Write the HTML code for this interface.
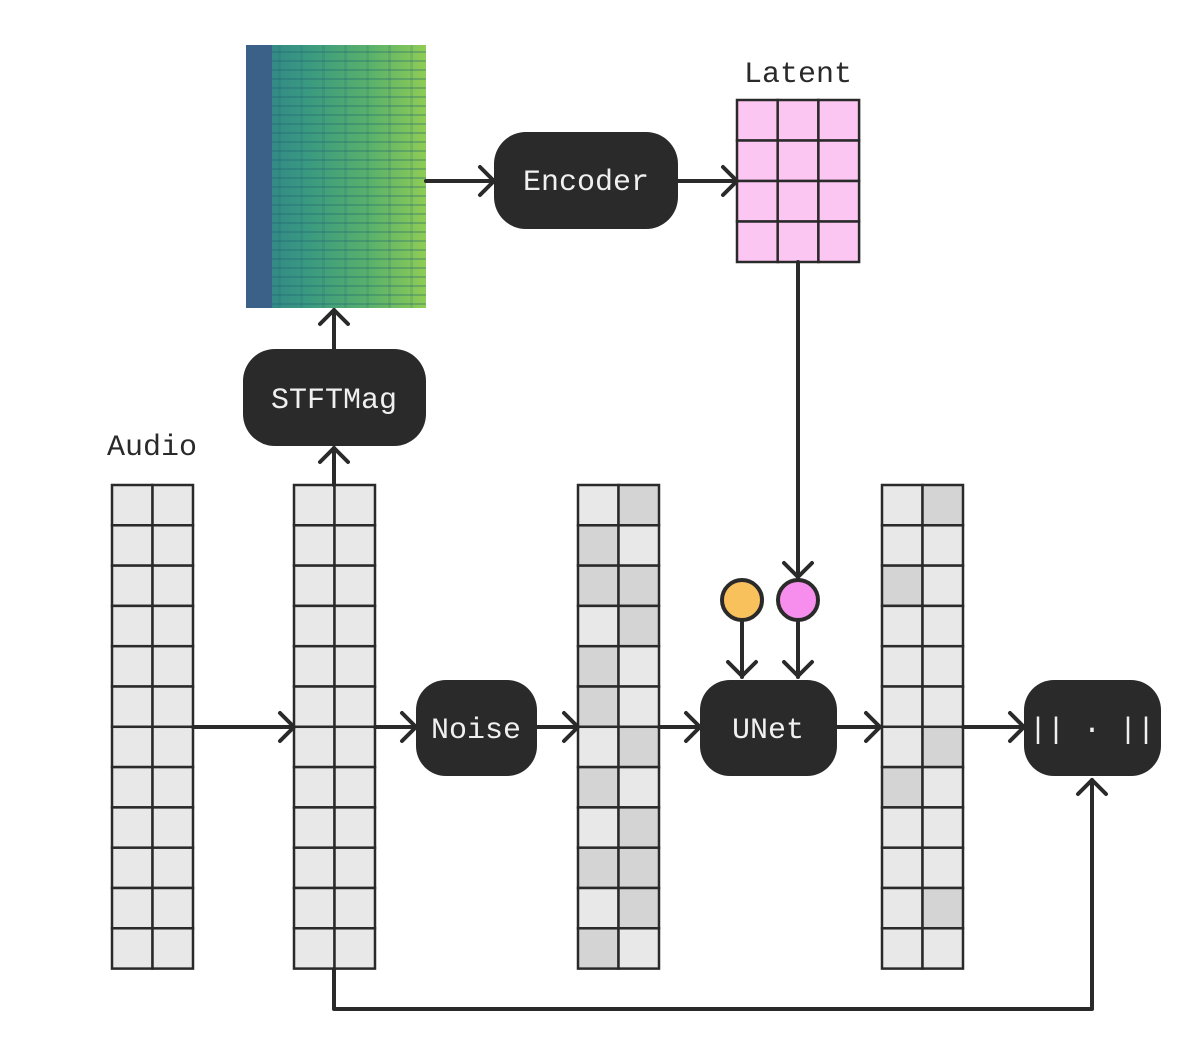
<!DOCTYPE html>
<html><head><meta charset="utf-8"><style>
html,body{margin:0;padding:0;background:#fff;}
svg{display:block;}
text{font-family:"Liberation Mono","DejaVu Sans Mono",monospace;}
</style></head><body>
<svg id="s" width="1200" height="1055" viewBox="0 0 1200 1055" xmlns="http://www.w3.org/2000/svg">
<defs>
<linearGradient id="sg" x1="0" x2="1" y1="0" y2="0">
<stop offset="0" stop-color="#2f7f8a"/>
<stop offset="0.35" stop-color="#3a9a80"/>
<stop offset="0.7" stop-color="#5bb26a"/>
<stop offset="1" stop-color="#8fcc55"/>
</linearGradient>
<pattern id="hl" width="10" height="9" patternUnits="userSpaceOnUse">
<rect width="10" height="9" fill="none"/>
<rect y="6" width="10" height="2" fill="#1f5f70" opacity="0.3"/>
</pattern>
<pattern id="vl" width="22" height="10" patternUnits="userSpaceOnUse">
<rect x="14" width="3" height="10" fill="#1f5f70" opacity="0.15"/>
</pattern>
</defs>
<rect x="246" y="45" width="180" height="263" fill="url(#sg)"/>
<rect x="272" y="45" width="154" height="263" fill="url(#hl)"/>
<rect x="272" y="45" width="154" height="263" fill="url(#vl)"/>
<rect x="246" y="45" width="26" height="263" fill="#3b6189"/>
<g id="grids"></g>
<g fill="#2a2a2a">
<rect x="494" y="132" width="184" height="97" rx="32"/>
<rect x="243" y="349" width="183" height="97" rx="32"/>
<rect x="416" y="680" width="121" height="96" rx="30"/>
<rect x="700" y="680" width="137" height="96" rx="30"/>
<rect x="1024" y="680" width="137" height="96" rx="30"/>
</g>
<g fill="#f0f0f0" font-size="30" text-anchor="middle">
<text x="586" y="190">Encoder</text>
<text x="334" y="408">STFTMag</text>
<text x="476" y="738">Noise</text>
<text x="768" y="738">UNet</text>
<text x="1092" y="738">|| · ||</text>
</g>
<g fill="#2a2a2a" font-size="30" text-anchor="middle">
<text x="798" y="82">Latent</text>
<text x="152" y="455">Audio</text>
</g>
<g stroke="#2a2a2a" stroke-width="4" fill="none" stroke-linecap="round" stroke-linejoin="round">
<line x1="426" y1="181" x2="492" y2="181"/><polyline points="480,167 494,181 480,195"/>
<line x1="678" y1="181" x2="735" y2="181"/><polyline points="723,167 737,181 723,195"/>
<line x1="334" y1="485" x2="334" y2="448"/><polyline points="320,462 334,448 348,462"/>
<line x1="334" y1="349" x2="334" y2="310"/><polyline points="320,324 334,310 348,324"/>
<line x1="193" y1="727" x2="292" y2="727"/><polyline points="280,713 294,727 280,741"/>
<line x1="375" y1="727" x2="414" y2="727"/><polyline points="402,713 416,727 402,741"/>
<line x1="537" y1="727" x2="576" y2="727"/><polyline points="564,713 578,727 564,741"/>
<line x1="659" y1="727" x2="698" y2="727"/><polyline points="686,713 700,727 686,741"/>
<line x1="837" y1="727" x2="880" y2="727"/><polyline points="866,713 880,727 866,741"/>
<line x1="963" y1="727" x2="1022" y2="727"/><polyline points="1010,713 1024,727 1010,741"/>
<line x1="798" y1="262" x2="798" y2="578"/><polyline points="784,563 798,577 812,563"/>
<line x1="742" y1="621" x2="742" y2="677"/><polyline points="728,662 742,676 756,662"/>
<line x1="798" y1="621" x2="798" y2="677"/><polyline points="784,662 798,676 812,662"/>
<polyline points="334,969 334,1009 1092,1009 1092,780"/><polyline points="1078,794 1092,780 1106,794"/>
<circle cx="742" cy="600" r="20" fill="#f8c15c"/>
<circle cx="798" cy="600" r="20" fill="#f78ded"/>
</g>
</svg>
<script>
(function(){
var g=document.getElementById('grids');var ns='http://www.w3.org/2000/svg';
function cell(x,y,w,h,f){var r=document.createElementNS(ns,'rect');r.setAttribute('x',x);r.setAttribute('y',y);r.setAttribute('width',w);r.setAttribute('height',h);r.setAttribute('fill',f);r.setAttribute('stroke','#2a2a2a');r.setAttribute('stroke-width','2.5');g.appendChild(r);}
var L='#e8e8e8',D='#d4d4d4';
var p3=['LD','DL','DD','LD','DL','DL','LD','DL','LD','DD','LD','DL'];
var p4=['LD','LL','DL','LL','LL','LL','LD','DL','LL','LL','LD','LL'];
var xs=[112,294,578,882];
for(var k=0;k<4;k++){for(var r=0;r<12;r++){for(var c=0;c<2;c++){var f=L;if(k==2)f=p3[r][c]=='D'?D:L;if(k==3)f=p4[r][c]=='D'?D:L;cell(xs[k]+c*40.5,485+r*40.3,40.5,40.3,f);}}}
for(var r=0;r<4;r++)for(var c=0;c<3;c++)cell(737+c*40.7,100+r*40.5,40.7,40.5,'#fcc6f2');
})();
</script>
</body></html>
